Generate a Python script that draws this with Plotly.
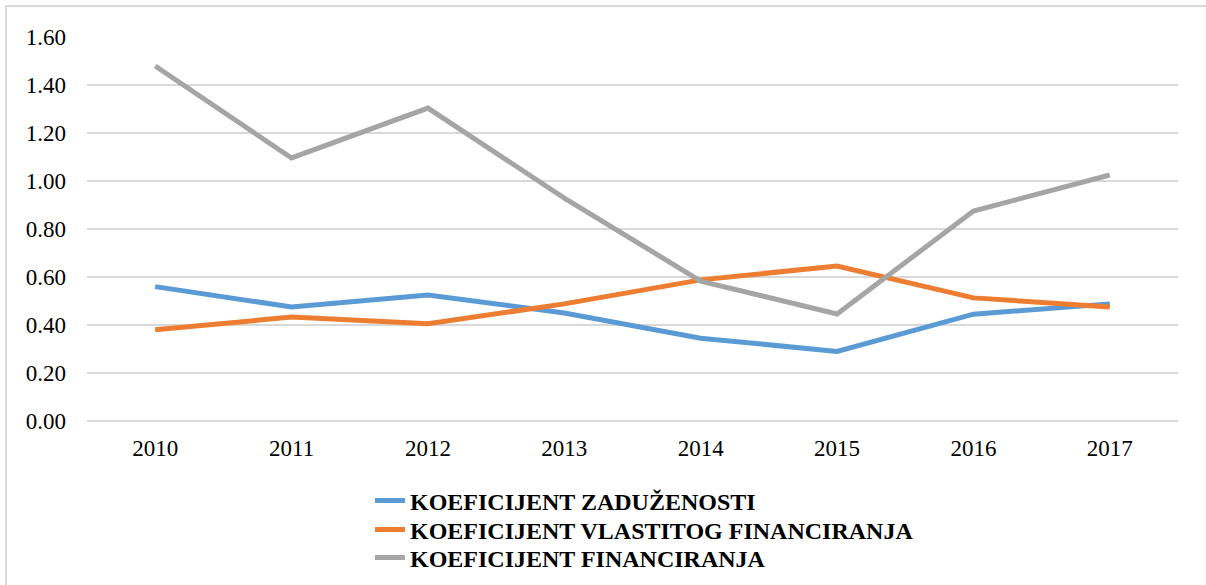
import plotly.graph_objects as go

years = ["2010", "2011", "2012", "2013", "2014", "2015", "2016", "2017"]
zaduzenosti = [0.56, 0.475, 0.525, 0.45, 0.345, 0.29, 0.445, 0.488]
vlastitog = [0.38, 0.433, 0.405, 0.488, 0.588, 0.646, 0.513, 0.475]
financiranja = [1.479, 1.096, 1.304, 0.929, 0.583, 0.446, 0.875, 1.025]

names = ["KOEFICIJENT ZADUŽENOSTI", "KOEFICIJENT VLASTITOG FINANCIRANJA", "KOEFICIJENT FINANCIRANJA"]
colors = ["#5B9BD5", "#ED7D31", "#A5A5A5"]
series = [zaduzenosti, vlastitog, financiranja]

W, H = 1206, 585
# paper area (chart frame) starts at the frame's left/top edge
ML, MT = 7, 7
PW, PH = W - ML, H - MT
# plot area in page pixels
PL, PR, PT, PB = 87, 1178, 37, 421
FONT = "Liberation Serif"
GRID = "#D9D9D9"
legend_ids = ["legend", "legend2", "legend3"]
legend_rows = [501, 530, 558]

fig = go.Figure()
for name, col, vals, lid in zip(names, colors, series, legend_ids):
    fig.add_trace(go.Scatter(x=years, y=vals, mode="lines", name=name, legend=lid,
                             line=dict(color=col, width=5)))

# empty frame subplot: its axis lines give the chart frame (left and top edges)
fig.add_trace(go.Scatter(x=[], y=[], xaxis="x2", yaxis="y2", showlegend=False, hoverinfo="skip"))

leg_common = dict(orientation="v", xref="container", yref="container",
                  x=370 / W, xanchor="left", yanchor="middle",
                  font=dict(family=FONT, size=24, weight="bold", color="#000000"),
                  bgcolor="rgba(0,0,0,0)", itemwidth=30, tracegroupgap=0)
legends = {lid: dict(leg_common, y=1 - row / H) for lid, row in zip(legend_ids, legend_rows)}

frame_axis = dict(domain=[0, 1], range=[0, 1], showline=True, linecolor=GRID, linewidth=2,
                  showgrid=False, zeroline=False, ticks="", showticklabels=False, fixedrange=True)

fig.update_layout(
    width=W, height=H,
    margin=dict(l=ML, r=0, t=MT, b=0, pad=0, autoexpand=False),
    paper_bgcolor="white", plot_bgcolor="rgba(0,0,0,0)",
    font=dict(family=FONT, size=23, color="#000000"),
    xaxis=dict(type="category", domain=[(PL - ML) / PW, (PR - ML) / PW], anchor="y",
               showgrid=False, showline=False, ticks="", zeroline=False,
               tickfont=dict(family=FONT, size=23), range=[-0.5, 7.5], fixedrange=True,
               ticklabelstandoff=11),
    yaxis=dict(domain=[(H - PB) / PH, (H - PT) / PH], anchor="x",
               range=[0, 1.6], dtick=0.2, tickformat=".2f", showgrid=True,
               gridcolor=GRID, gridwidth=2, zeroline=True, zerolinecolor=GRID,
               zerolinewidth=2, showline=False, ticks="", ticklabelstandoff=20,
               tickfont=dict(family=FONT, size=23), fixedrange=True),
    xaxis2=dict(frame_axis, anchor="y2", side="top"),
    yaxis2=dict(frame_axis, anchor="x2", side="left"),
    showlegend=True,
    **legends,
)

fig.write_html("out.html")
